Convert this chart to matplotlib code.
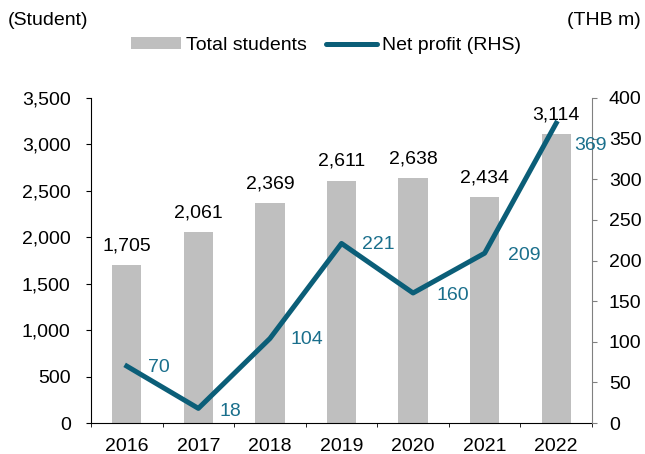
import matplotlib
matplotlib.use("Agg")
import matplotlib.pyplot as plt
import numpy as np
from matplotlib.ticker import FuncFormatter, FixedLocator
from matplotlib.patches import Patch
from matplotlib.lines import Line2D

plt.rcParams['font.family'] = ['Liberation Sans', 'DejaVu Sans']

years = ["2016", "2017", "2018", "2019", "2020", "2021", "2022"]
students = [1705, 2061, 2369, 2611, 2638, 2434, 3114]
net_profit = [70, 18, 104, 221, 160, 209, 369]

bar_color = "#bfbfbf"
line_color = "#0b5e78"
label_color = "#1a6f8c"
FS = 14

fig = plt.figure(figsize=(6.45, 4.54), dpi=100)
ax = fig.add_axes([91/645, 1-423/454, 501/645, 325/454])
ax2 = ax.twinx()

x = np.arange(len(years))
ax.bar(x, students, width=0.41, color=bar_color, zorder=1)
for xi, v in zip(x, students):
    ax.annotate(f"{v:,}", (xi, v), xytext=(0, 10.5), textcoords='offset points',
                ha='center', va='baseline', fontsize=FS, color='black')

ax.set_ylim(0, 3500)
ax.set_yticks(np.arange(0, 3501, 500))
ax.yaxis.set_major_formatter(FuncFormatter(lambda v, p: f"{int(v):,}"))
ax.set_xlim(-0.5, 6.5)
ax.set_xticks(x)
ax.set_xticklabels(years)
ax.xaxis.set_minor_locator(FixedLocator(np.arange(-0.5, 7, 1.0)))
ax.tick_params(axis='x', which='major', length=0, labelsize=FS, pad=11)
ax.tick_params(axis='x', which='minor', length=3, direction='out', color='black')
ax.tick_params(axis='y', length=3.6, direction='out', labelsize=FS, colors='black', pad=11)

ax2.plot(x, net_profit, color=line_color, linewidth=3.6, zorder=3)
ax2.set_ylim(0, 400)
ax2.set_yticks(np.arange(0, 401, 50))
ax2.tick_params(axis='y', length=3.6, direction='out', labelsize=FS, color='#808080',
                labelcolor='black', pad=8.5)

offsets = [(15, -1), (15, -2), (15, -1), (15, -1), (17, -2), (17, -2), (13, -16)]
for xi, v, off in zip(x, net_profit, offsets):
    ax2.annotate(f"{v}", (xi, v), xytext=off, textcoords='offset points',
                 ha='left', va='center', fontsize=FS, color=label_color)

for a in (ax, ax2):
    a.spines['top'].set_visible(False)
ax.spines['right'].set_visible(False)
ax2.spines['left'].set_visible(False)
ax2.spines['bottom'].set_visible(False)
ax2.spines['right'].set_color('#808080')
ax.spines['left'].set_color('black')
ax.spines['bottom'].set_color('black')

fig.text(0.012, 0.955, "(Student)", fontsize=FS, ha='left', va='center')
fig.text(0.993, 0.955, "(THB m)", fontsize=FS, ha='right', va='center')

handles = [Patch(facecolor=bar_color, edgecolor='none'),
           Line2D([0], [0], color=line_color, linewidth=3.6, solid_capstyle='round')]
fig.legend(handles, ["Total students", "Net profit (RHS)"], loc='center',
           bbox_to_anchor=(0.505, 0.9), ncol=2, frameon=False, fontsize=FS,
           handlelength=2.6, handleheight=0.5, handletextpad=0.25, columnspacing=1.0,
           borderaxespad=0, borderpad=0)

fig.savefig("out.png", dpi=100)
